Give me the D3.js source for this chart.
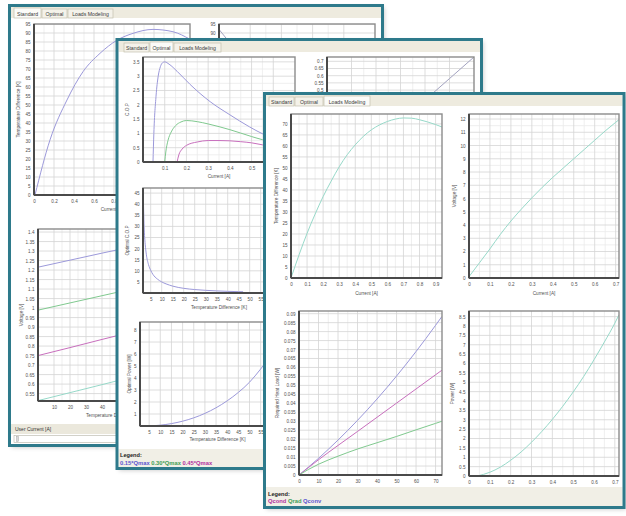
<!DOCTYPE html>
<html><head><meta charset="utf-8">
<script src="https://cdn.jsdelivr.net/npm/d3@7/dist/d3.min.js"></script>
<style>html,body{margin:0;padding:0;background:#fff;}svg{display:block;}</style>
</head><body>
<svg id="c" width="626" height="516"></svg>
<script>
// ---------------- DATA ----------------
const tabNames = ["Standard", "Optimal", "Loads Modeling"];
// Window 1 (Standard)
const w1TempVsCurrent = [[0.01,0],[0.16,30.6],[0.33,52.8],[0.49,68.5],[0.66,78.7],[0.83,86],[0.99,89.8],[1.19,92],[1.39,90.7],[1.56,86.5]];
const w1TempVsLoad = [[0,92],[0.2,70.5],[0.4,49],[0.6,27.5],[0.85,0]];
const w1VoltBlue = [[0,1.215],[20,1.252],[40,1.289],[60,1.325],[80,1.362],[95,1.39]];
const w1VoltGreen = [[0,0.989],[20,1.027],[40,1.065],[60,1.103],[80,1.141],[95,1.17]];
const w1VoltPink = [[0,0.75],[20,0.792],[40,0.835],[60,0.877],[80,0.92],[95,0.951]];
const w1VoltTeal = [[0,0.513],[20,0.555],[40,0.597],[60,0.64],[80,0.682],[95,0.714]];
const w1TempTicks = [0,5,10,15,20,25,30,35,40,45,50,55,60,65,70,75,80,85,90,95];
const w1CurrentTicks = [0,0.2,0.4,0.6,0.8,1,1.2,1.4];
const w1VoltTicks = [0.55,0.6,0.65,0.7,0.75,0.8,0.85,0.9,0.95,1,1.05,1.1,1.15,1.2,1.25,1.3,1.35,1.4];
const w1DeltaTTicks = [10,20,30,40,50,60,70,80,90];
const w1LoadTicks = [0.2,0.4,0.6,0.8];
// Window 2 (Optimal)
const w2CopBlue = [[0.046,0],[0.05,1.0],[0.06,2.3],[0.07,3.0],[0.08,3.33],[0.09,3.47],[0.1,3.5],[0.12,3.42],[0.157,3.17],[0.217,2.71],[0.309,2.11],[0.4,1.65],[0.49,1.23],[0.56,0.95],[0.63,0.74],[0.7,0.58]];
const w2CopGreen = [[0.1,0],[0.105,0.35],[0.115,0.75],[0.13,1.05],[0.15,1.27],[0.175,1.4],[0.2,1.45],[0.25,1.41],[0.3,1.33],[0.4,1.13],[0.5,0.89],[0.55,0.78],[0.6,0.7],[0.7,0.55]];
const w2CopPink = [[0.157,0],[0.165,0.25],[0.18,0.45],[0.2,0.58],[0.25,0.7],[0.3,0.75],[0.35,0.75],[0.4,0.74],[0.45,0.71],[0.5,0.67],[0.55,0.6],[0.6,0.55],[0.7,0.46]];
const w2OptCurrent = [[30,0.28],[40,0.43],[50,0.58],[60,0.73]];
const w2OptCop = [[1.6,45],[2,30],[2.5,22],[3,17.5],[4,12.8],[5,10.2],[6,8.4],[8,6.3],[10,5.0],[12,4.1],[15,3.1],[20,2.1],[25,1.55],[30,1.2],[35,0.95],[40,0.75],[45,0.6],[47,0.55]];
const w2OptPower = [[3,0],[5,0.01],[10,0.07],[15,0.2],[20,0.4],[25,0.68],[30,1.05],[35,1.52],[40,2.1],[45,2.8],[50,3.65],[55,4.75],[60,6.0],[65,7.4]];
const w2CopTicks = [0,0.5,1,1.5,2,2.5,3,3.5];
const w2CurrentTicks = [0.1,0.2,0.3,0.4,0.5,0.6];
const w2OptCurTicks = [0.05,0.1,0.15,0.2,0.25,0.3,0.35,0.4,0.45,0.5,0.55,0.6,0.65,0.7];
const w2OptCopTicks = [5,10,15,20,25,30,35,40,45];
const w2DeltaTTicks = [5,10,15,20,25,30,35,40,45,50,55,60,65,70];
const w2PowerTicks = [1,2,3,4,5,6,7,8];
const w2TopRightXTicks = [10,20,30,40,50];
const w2Legend = ["0.15*Qmax", "0.30*Qmax", "0.45*Qmax"];
// Window 3 (Loads Modeling)
const w3TempVsCurrent = [[0,0],[0.05,10.5],[0.1,20.3],[0.15,29],[0.2,37],[0.25,44],[0.3,50.5],[0.35,56],[0.4,60.5],[0.45,64.3],[0.5,67.3],[0.55,69.5],[0.6,71.1],[0.65,72.2],[0.7,72.7],[0.75,72.6],[0.8,71.9],[0.85,70.9],[0.9,69.7],[0.94,68.6]];
const w3VoltVsCurrent = [[0,0.1],[0.05,1.15],[0.1,2.2],[0.15,3.3],[0.2,4.3],[0.25,5.2],[0.3,6.05],[0.35,6.85],[0.4,7.6],[0.45,8.3],[0.5,9.0],[0.55,9.7],[0.6,10.4],[0.65,11.1],[0.7,11.75],[0.716,11.95]];
const w3Qconv = [[0,0],[10,0.0093],[20,0.0195],[30,0.0305],[40,0.0424],[50,0.0552],[60,0.0689],[70,0.0835],[73.3,0.0885]];
const w3Qcond = [[0,0],[10,0.0085],[20,0.0165],[30,0.0243],[40,0.0322],[50,0.0401],[60,0.048],[70,0.0559],[73.3,0.0585]];
const w3Qrad = [[0,0],[5,0.0032],[10,0.006],[20,0.0105],[30,0.0145],[40,0.018],[50,0.0215],[60,0.0252],[70,0.0288],[73.3,0.03]];
const w3PowerVsCurrent = [[0.04,0],[0.1,0.2],[0.15,0.47],[0.2,0.84],[0.25,1.28],[0.3,1.8],[0.35,2.38],[0.4,3.02],[0.45,3.72],[0.5,4.48],[0.55,5.3],[0.6,6.2],[0.65,7.15],[0.7,8.15],[0.72,8.6]];
const w3TempTicks = [0,5,10,15,20,25,30,35,40,45,50,55,60,65,70];
const w3Current9Ticks = [0,0.1,0.2,0.3,0.4,0.5,0.6,0.7,0.8,0.9];
const w3VoltTicks = [0,1,2,3,4,5,6,7,8,9,10,11,12];
const w3Current7Ticks = [0,0.1,0.2,0.3,0.4,0.5,0.6,0.7];
const w3LoadTicks = [0,0.005,0.01,0.015,0.02,0.025,0.03,0.035,0.04,0.045,0.05,0.055,0.06,0.065,0.07,0.075,0.08,0.085,0.09];
const w3DeltaTTicks = [0,10,20,30,40,50,60,70];
const w3PowerTicks = [0,0.5,1,1.5,2,2.5,3,3.5,4,4.5,5,5.5,6,6.5,7,7.5,8,8.5];
const w3Legend = ["Qcond", "Qrad", "Qconv"];

// ---------------- STYLE ----------------
const FONT = "'Liberation Sans', Arial, sans-serif";
const TEAL = "#2e7a8b";
const C = {blue:"#9c99da", green:"#80c98f", pink:"#c86fbd", teal:"#97d9c9", gray:"#a3a3c0"};
const LEG = {blue:"#5a55d0", green:"#3f9e55", pink:"#b0309e"};

const svg = d3.select("#c");
const defs = svg.append("defs");
const f = defs.append("filter").attr("id","sh").attr("x","-5%").attr("y","-5%").attr("width","115%").attr("height","115%");
f.append("feDropShadow").attr("dx",2).attr("dy",2).attr("stdDeviation",2).attr("flood-color","#000").attr("flood-opacity",0.2);

const fmt = d => String(+(+d).toFixed(4));
let clipN = 0;
const inside = (px, py, occ) => (occ || []).some(r => px > r.x - 2 && px < r.x + r.w + 2 && py > r.y - 2 && py < r.y + r.h + 2);

function chart(parent, c) {
  const w = c.right - c.left, h = c.bottom - c.top;
  const g = parent.append("g").attr("transform", `translate(${c.left},${c.top})`);
  const x = d3.scaleLinear().domain(c.xDomain).range([0, w]);
  const y = d3.scaleLinear().domain(c.yDomain).range([h, 0]);
  const id = "clip" + (clipN++);
  g.append("clipPath").attr("id", id).append("rect").attr("width", w).attr("height", h);
  g.append("rect").attr("width", w).attr("height", h).attr("fill", "#fff");
  const mids = (t, s) => { const o = []; for (let i = 0; i < t.length - 1; i++) if (Math.abs(s(t[i+1]) - s(t[i])) > 12) o.push((t[i] + t[i+1]) / 2); return o; };
  const allX = c.xTicks, allY = c.yTicks;
  const gg = g.append("g").attr("clip-path", `url(#${id})`);
  gg.selectAll(".mx").data(mids(allX, x)).join("line").attr("x1", d => x(d)).attr("x2", d => x(d)).attr("y1", 0).attr("y2", h).attr("stroke", "#ebebeb").attr("stroke-width", 0.8);
  gg.selectAll(".my").data(mids(allY, y)).join("line").attr("y1", d => y(d)).attr("y2", d => y(d)).attr("x1", 0).attr("x2", w).attr("stroke", "#ebebeb").attr("stroke-width", 0.8);
  gg.selectAll(".gx").data(allX).join("line").attr("x1", d => x(d)).attr("x2", d => x(d)).attr("y1", 0).attr("y2", h).attr("stroke", "#d4d4d4").attr("stroke-width", 0.8);
  gg.selectAll(".gy").data(allY).join("line").attr("y1", d => y(d)).attr("y2", d => y(d)).attr("x1", 0).attr("x2", w).attr("stroke", "#d4d4d4").attr("stroke-width", 0.8);
  const line = d3.line().x(d => x(d[0])).y(d => y(d[1])).curve(d3.curveMonotoneX);
  c.series.forEach(s => gg.append("path").attr("d", line(s.data)).attr("fill", "none").attr("stroke", s.color).attr("stroke-width", 1));
  // frame
  g.append("rect").attr("width", w).attr("height", h).attr("fill", "none").attr("stroke", "#8c8c8c").attr("stroke-width", 1.4);
  g.append("line").attr("x1", 0).attr("x2", 0).attr("y1", 0).attr("y2", h).attr("stroke", "#4a4a4a").attr("stroke-width", 2);
  g.append("line").attr("x1", 0).attr("x2", w).attr("y1", h).attr("y2", h).attr("stroke", "#4a4a4a").attr("stroke-width", 2);
  // axes (tick labels fully covered by a later window are not drawn)
  const yVis = c.yTicks.filter(d => !inside(c.left - 6, c.top + y(d), c.occ));
  const xVis = c.xTicks.filter(d => !inside(c.left + x(d), c.bottom + 7, c.occ));
  const ya = g.append("g").call(d3.axisLeft(y).tickValues(yVis).tickSize(0).tickPadding(3.5).tickFormat(fmt));
  const xa = g.append("g").attr("transform", `translate(0,${h})`).call(d3.axisBottom(x).tickValues(xVis).tickSize(0).tickPadding(4.5).tickFormat(fmt));
  [ya, xa].forEach(a => { a.select(".domain").remove(); a.selectAll("text").attr("font-family", FONT).attr("font-size", 4.6).attr("fill", "#505050"); });
  if (c.yTitle && !inside(c.yTitleX, c.top + h / 2 - 10, c.occ)) g.append("text").attr("transform", `translate(${c.yTitleX - c.left},${h/2}) rotate(-90)`).attr("text-anchor", "middle").attr("dy", "0.35em")
    .attr("font-family", FONT).attr("font-size", 4.7).attr("fill", "#505050").text(c.yTitle);
  if (c.xTitle) g.append("text").attr("x", w/2).attr("y", c.xTitleY - c.top).attr("text-anchor", "middle").attr("dy", "0.35em")
    .attr("font-family", FONT).attr("font-size", 4.7).attr("fill", "#505050").text(c.xTitle);
}

function windowBase(r, tabOffset, tabWidths, active) {
  const g = svg.append("g");
  g.append("rect").attr("x", r.x).attr("y", r.y).attr("width", r.w).attr("height", r.h).attr("fill", "#fff").attr("filter", "url(#sh)");
  g.append("rect").attr("x", r.x + 1.5).attr("y", r.y + 1.5).attr("width", r.w - 3).attr("height", 11).attr("fill", "#eeebdf");
  let tx = r.x + tabOffset;
  tabNames.forEach((t, i) => {
    const isA = i === active;
    g.append("rect").attr("x", tx).attr("y", r.y + (isA ? 2.5 : 3.5)).attr("width", tabWidths[i]).attr("height", isA ? 10 : 9)
      .attr("fill", isA ? "#fbfbf8" : "#f4f2ea").attr("stroke", "#c4c0ae").attr("stroke-width", 0.7);
    g.append("text").attr("x", tx + tabWidths[i] / 2).attr("y", r.y + 8.3).attr("text-anchor", "middle").attr("dy", "0.35em")
      .attr("font-family", FONT).attr("font-size", 5.2).attr("fill", "#3a3a3a").text(t);
    tx += tabWidths[i] + 1;
  });
  return g;
}
function windowBorder(g, r) {
  g.append("rect").attr("x", r.x).attr("y", r.y).attr("width", r.w).attr("height", r.h).attr("fill", "none").attr("stroke", TEAL).attr("stroke-width", 3);
}
function legend(g, r, bandTop, items, colors, titleY, itemY, x0, gap) {
  g.append("rect").attr("x", r.x + 1.5).attr("y", bandTop).attr("width", r.w - 3).attr("height", r.y + r.h - 1.5 - bandTop).attr("fill", "#f1efe6");
  g.append("text").attr("x", x0).attr("y", titleY).attr("dy", "0.35em").attr("font-family", FONT).attr("font-size", 5.6).attr("font-weight", "bold").attr("fill", "#222").text("Legend:");
  const t = g.append("text").attr("x", x0).attr("y", itemY).attr("dy", "0.35em").attr("font-family", FONT).attr("font-size", 5.8).attr("font-weight", "bold");
  items.forEach((it, i) => t.append("tspan").attr("fill", colors[i]).text(it + (i < items.length - 1 ? gap : "")));
}

const R1 = {x: 9.5, y: 5.5, w: 373, h: 440};
const R2 = {x: 117, y: 39.5, w: 364.5, h: 429};
const R3 = {x: 264.5, y: 93.5, w: 359.5, h: 414};

// ---------------- WINDOW 1 ----------------
const g1 = windowBase(R1, 4.5, [27, 25, 45], 0);
chart(g1, {left: 34, right: 190, top: 24, bottom: 195, xDomain: [0, 1.56], yDomain: [0, 95], xTicks: w1CurrentTicks, yTicks: w1TempTicks, occ: [R2, R3],
  yTitle: "Temperature Difference [K]", yTitleX: 18, xTitle: "Current [A]", xTitleY: 209, series: [{data: w1TempVsCurrent, color: C.blue}]});
chart(g1, {left: 219, right: 375, top: 24, bottom: 195, xDomain: [0, 1], yDomain: [0, 95], xTicks: w1LoadTicks, yTicks: w1TempTicks, occ: [R2, R3],
  series: [{data: w1TempVsLoad, color: C.gray}]});
chart(g1, {left: 38, right: 190, top: 229, bottom: 401, xDomain: [0, 95], yDomain: [0.511, 1.416], xTicks: w1DeltaTTicks, yTicks: w1VoltTicks, occ: [R2, R3],
  yTitle: "Voltage [V]", yTitleX: 21, xTitle: "Temperature Difference [K]", xTitleY: 415,
  series: [{data: w1VoltBlue, color: C.blue}, {data: w1VoltGreen, color: C.green}, {data: w1VoltPink, color: C.pink}, {data: w1VoltTeal, color: C.teal}]});
g1.append("rect").attr("x", 11).attr("y", 424).attr("width", 370).attr("height", 10).attr("fill", "#ebe8dc");
g1.append("text").attr("x", 15).attr("y", 429).attr("dy", "0.35em").attr("font-family", FONT).attr("font-size", 5).attr("fill", "#333").text("User Current [A]");
g1.append("rect").attr("x", 14).attr("y", 435.5).attr("width", 364).attr("height", 7).attr("fill", "#fff").attr("stroke", "#b5b2a5").attr("stroke-width", 0.6);
g1.append("rect").attr("x", 16.5).attr("y", 436.5).attr("width", 2).attr("height", 5).attr("fill", "#d8d8d8").attr("stroke", "#999").attr("stroke-width", 0.4);
windowBorder(g1, R1);

// ---------------- WINDOW 2 ----------------
const g2 = windowBase(R2, 7, [25, 23, 47], 1);
chart(g2, {left: 143, right: 295, top: 57, bottom: 162, xDomain: [0, 0.7], yDomain: [0, 3.67], xTicks: w2CurrentTicks, yTicks: w2CopTicks, occ: [R3],
  yTitle: "C.O.P", yTitleX: 127, xTitle: "Current [A]", xTitleY: 176.5,
  series: [{data: w2CopBlue, color: C.blue}, {data: w2CopGreen, color: C.green}, {data: w2CopPink, color: C.pink}]});
chart(g2, {left: 327, right: 474, top: 57, bottom: 162, xDomain: [0, 60], yDomain: [0, 0.73], xTicks: w2TopRightXTicks, yTicks: w2OptCurTicks, occ: [R3],
  yTitle: "Optimal Current [A]", yTitleX: 309, series: [{data: w2OptCurrent, color: C.gray}]});
chart(g2, {left: 143, right: 295, top: 188, bottom: 293, xDomain: [1.5, 70.6], yDomain: [0, 47.3], xTicks: w2DeltaTTicks, yTicks: w2OptCopTicks, occ: [R3],
  yTitle: "Optimal C.O.P", yTitleX: 127, xTitle: "Temperature Difference [K]", xTitleY: 307.5, series: [{data: w2OptCop, color: C.blue}]});
chart(g2, {left: 140, right: 295, top: 322, bottom: 426, xDomain: [0.9, 70.4], yDomain: [0, 8.67], xTicks: w2DeltaTTicks, yTicks: w2PowerTicks, occ: [R3],
  yTitle: "Optimal Power [W]", yTitleX: 129, xTitle: "Temperature Difference [K]", xTitleY: 439, series: [{data: w2OptPower, color: C.blue}]});
legend(g2, R2, 449, w2Legend, [LEG.blue, LEG.green, LEG.pink], 455, 462.5, 120, " ");
windowBorder(g2, R2);

// ---------------- WINDOW 3 ----------------
const g3 = windowBase(R3, 4.5, [25, 28, 46], 2);
chart(g3, {left: 291, right: 442, top: 114, bottom: 278, xDomain: [0, 0.94], yDomain: [0, 74.5], xTicks: w3Current9Ticks, yTicks: w3TempTicks,
  yTitle: "Temperature Difference [K]", yTitleX: 276, xTitle: "Current [A]", xTitleY: 293, series: [{data: w3TempVsCurrent, color: C.teal}]});
chart(g3, {left: 469, right: 619, top: 114, bottom: 278, xDomain: [0, 0.716], yDomain: [0, 12.38], xTicks: w3Current7Ticks, yTicks: w3VoltTicks,
  yTitle: "Voltage [V]", yTitleX: 454, xTitle: "Current [A]", xTitleY: 293, series: [{data: w3VoltVsCurrent, color: C.teal}]});
chart(g3, {left: 299, right: 442, top: 311, bottom: 475, xDomain: [0, 73.3], yDomain: [0, 0.0915], xTicks: w3DeltaTTicks, yTicks: w3LoadTicks,
  yTitle: "Required Heat Load [W]", yTitleX: 277, xTitle: "Temperature Difference [K]", xTitleY: 490,
  series: [{data: w3Qconv, color: C.blue}, {data: w3Qcond, color: C.pink}, {data: w3Qrad, color: C.green}]});
chart(g3, {left: 469, right: 619, top: 311, bottom: 476, xDomain: [0, 0.72], yDomain: [0, 8.8], xTicks: w3Current7Ticks, yTicks: w3PowerTicks,
  yTitle: "Power [W]", yTitleX: 452, xTitle: "Current [A]", xTitleY: 490, series: [{data: w3PowerVsCurrent, color: C.teal}]});
legend(g3, R3, 487, w3Legend, [LEG.pink, LEG.green, LEG.blue], 494, 501, 268, " ");
windowBorder(g3, R3);
</script>
</body></html>
